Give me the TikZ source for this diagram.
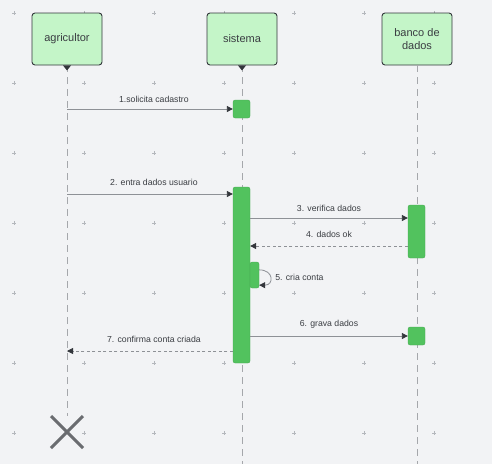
\documentclass[tikz,border=0pt]{standalone}
\usepackage{fontspec}
\setmainfont{Liberation Sans}
\usetikzlibrary{arrows.meta}
\usetikzlibrary{shapes.misc}
\usetikzlibrary{positioning}
\definecolor{cbg}{HTML}{F2F3F5}
\definecolor{cgrid}{HTML}{B4B7BC}
\definecolor{cbox}{HTML}{C4F5C8}
\definecolor{cact}{HTML}{52C25E}
\definecolor{cline}{HTML}{8E9196}
\definecolor{ctip}{HTML}{33363B}
\definecolor{ctext}{HTML}{3A3D42}
\definecolor{ccross}{HTML}{6A6C70}

\begin{document}
\begin{tikzpicture}[x=1pt, y=-1pt,
  actor/.style={draw=ctip, line width=0.9pt, fill=cbox, rounded corners=3pt,
    minimum width=70pt, minimum height=52pt, align=center,
    font=\fontsize{11}{13}\selectfont, text=ctext},
  act/.style={fill=cact, draw=cact!85!black, line width=0.3pt,
    rounded corners=2pt, minimum width=17pt, inner sep=0pt},
  lifeline/.style={draw=cline!80, line width=0.8pt, dash pattern=on 7pt off 5pt},
  msg/.style={draw=cline, line width=0.8pt,
    -{Triangle[length=6pt, width=6pt, color=ctip]}},
  reply/.style={msg, dash pattern=on 3pt off 2.5pt},
  lbl/.style={font=\fontsize{8.7}{10}\selectfont, text=ctext, inner sep=1pt,
    text height=6.5pt, text depth=1.8pt}]

  % background and grid
  \fill [cbg] (0, 0) rectangle (492, 464);
  \useasboundingbox (0, 0) rectangle (492, 464);
  \foreach \gx in {14, 84, ..., 434} {
    \foreach \gy in {13, 83, ..., 433} {
      \draw [cgrid, line width=0.5pt] (\gx-2, \gy) -- (\gx+2, \gy) (\gx, \gy-2) -- (\gx, \gy+2);
    }
  }

  % participants
  \node [actor] (agricultor) at (67, 39) {agricultor};
  \node [actor] (sistema) at (242, 39) {sistema};
  \node [actor] (banco) at (417, 39) {banco de\\dados};
  \node [draw=ccross, cross out, line width=3pt, minimum size=29pt, inner sep=0pt] (fim) at (67, 432) {};

  % lifelines
  \draw [lifeline] (agricultor.south) -- (fim.north);
  \draw [lifeline] (sistema.south) -- (sistema.south |- 0, 464);
  \draw [lifeline] (banco.south) -- (banco.south |- 0, 464);
  \fill [ctip] ([xshift=-4pt]agricultor.south) -- ([xshift=4pt]agricultor.south) -- ([yshift=-5pt]agricultor.south) -- cycle;
  \fill [ctip] ([xshift=-4pt]sistema.south) -- ([xshift=4pt]sistema.south) -- ([yshift=-5pt]sistema.south) -- cycle;

  % activations
  \node [act, minimum height=18pt] (act1) at (241.5, 109) {};
  \node [act, minimum height=176pt] (act2) at (241.5, 275) {};
  \node [act, minimum width=9pt, minimum height=26pt] (act3) at (254.5, 275) {};
  \node [act, minimum height=53pt] (act4) at (416.5, 231.5) {};
  \node [act, minimum height=18pt] (act5) at (416.5, 336) {};

  % message levels
  \coordinate (y2) at (0, 194);
  \coordinate (y3) at (0, 218);
  \coordinate (y4) at (0, 246);
  \coordinate (y7) at (0, 351);

  % messages
  \draw [msg] (agricultor |- act1) -- node [lbl, above=3pt, xshift=4pt] (l1) {1.solicita cadastro} (act1.west);
  \draw [msg] (agricultor |- y2) -- node [lbl, above=5pt, xshift=4pt] (l2) {2. entra dados usuario} (act2.west |- y2);
  \draw [msg] (act2.east |- y3) -- node [lbl, above=3pt] (l3) {3. verifica dados} (act4.west |- y3);
  \draw [reply] (act4.west |- y4) -- node [lbl, above=5pt] (l4) {4. dados ok} (act2.east |- y4);
  \draw [msg] ([yshift=-8pt]act3.north east) to [out=0, in=0, looseness=2.5] ([yshift=3pt]act3.south east);
  \node [lbl, right=15pt of act3.east, yshift=-3pt] (l5) {5. cria conta};
  \draw [msg] (act2.east |- act5) -- node [lbl, above=6pt] (l6) {6. grava dados} (act5.west);
  \draw [reply] (act2.west |- y7) -- node [lbl, above=5pt, xshift=4pt] (l7) {7. confirma conta criada} (agricultor |- y7);
\end{tikzpicture}
\end{document}
